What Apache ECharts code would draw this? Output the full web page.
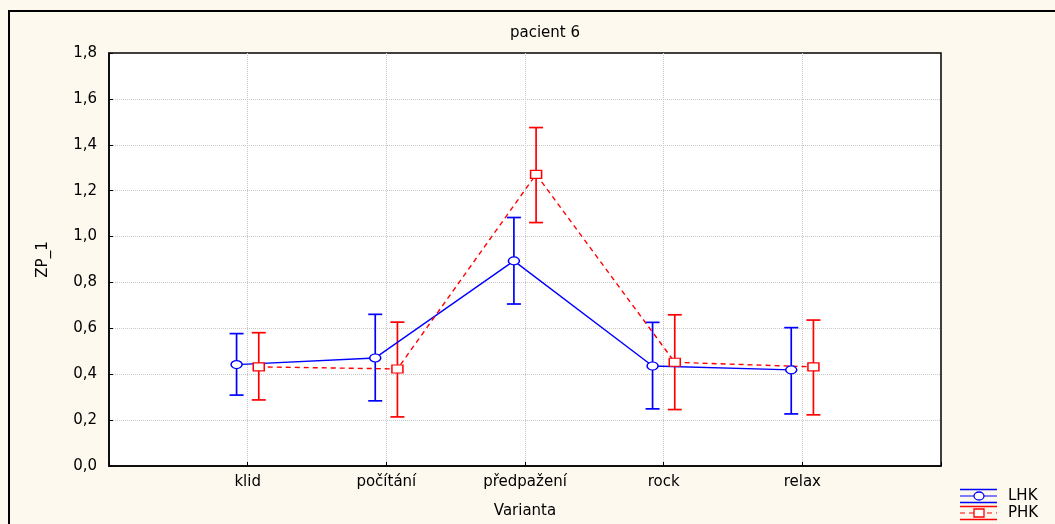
<!DOCTYPE html>
<html><head><meta charset="utf-8">
<script src="https://cdn.jsdelivr.net/npm/echarts@6/dist/echarts.min.js"></script>
<style>html,body{margin:0;padding:0;background:#fdf9ee;}#c{width:1055px;height:524px;}</style>
</head><body><div id="c"></div>
<script>
const categories = ['klid', 'počítání', 'předpažení', 'rock', 'relax'];
const lhkMean = [0.442, 0.471, 0.894, 0.436, 0.419];
const lhkLow  = [0.309, 0.284, 0.706, 0.249, 0.227];
const lhkHigh = [0.577, 0.661, 1.083, 0.626, 0.603];
const phkMean = [0.432, 0.423, 1.271, 0.452, 0.432];
const phkLow  = [0.288, 0.214, 1.061, 0.246, 0.223];
const phkHigh = [0.581, 0.627, 1.475, 0.659, 0.636];
const yTicks = [0, 0.2, 0.4, 0.6, 0.8, 1.0, 1.2, 1.4, 1.6, 1.8];
const offset = 0.08;
const BLUE = '#0000ff', RED = '#ff0000';
const FONT = '"DejaVu Sans", "Liberation Sans", Arial, sans-serif';

const chart = echarts.init(document.getElementById('c'));

function errSeries(name, low, high, shift, color) {
  return {
    type: 'custom', name: name + ' err', z: 3,
    data: categories.map((c, i) => [i + 1 + shift, low[i], high[i]]),
    renderItem: function (params, api) {
      const x = api.value(0);
      const p1 = api.coord([x, api.value(1)]);
      const p2 = api.coord([x, api.value(2)]);
      const hw = 7;
      const st = { stroke: color, lineWidth: 1.7 };
      return { type: 'group', children: [
        { type: 'line', shape: { x1: p1[0], y1: p1[1], x2: p2[0], y2: p2[1] }, style: st },
        { type: 'line', shape: { x1: p1[0]-hw, y1: p1[1], x2: p1[0]+hw, y2: p1[1] }, style: st },
        { type: 'line', shape: { x1: p2[0]-hw, y1: p2[1], x2: p2[0]+hw, y2: p2[1] }, style: st }
      ]};
    }
  };
}

const lx = 960, lx2 = 997, lcx = 979;
chart.setOption({
  backgroundColor: '#fdf9ee',
  animation: false,
  title: { text: 'pacient 6', left: 540, top: 21, textAlign: 'center',
    textStyle: { fontFamily: FONT, fontSize: 15, fontWeight: 'normal', color: '#000' } },
  grid: { left: 109, top: 53, width: 832, height: 414, show: true,
    backgroundColor: '#ffffff', borderColor: '#000', borderWidth: 1.5 },
  xAxis: {
    type: 'value', min: 0, max: 6, interval: 1,
    name: 'Varianta', nameLocation: 'middle', nameGap: 38,
    nameTextStyle: { fontFamily: FONT, fontSize: 15, color: '#000' },
    axisLine: { show: true, onZero: false, lineStyle: { color: '#000', width: 1.5 } },
    axisTick: { show: true, inside: true, length: 4, lineStyle: { color: '#000' } },
    axisLabel: { fontFamily: FONT, fontSize: 15, color: '#000', margin: 9,
      formatter: v => (v >= 1 && v <= 5) ? categories[v - 1] : '' },
    splitLine: { show: true, showMinLine: false, showMaxLine: false,
      lineStyle: { color: '#c8c8c8', type: 'dotted', width: 1 } }
  },
  yAxis: {
    type: 'value', min: 0, max: 1.8, interval: 0.2,
    name: 'ZP_1', nameLocation: 'middle', nameGap: 58, nameRotate: 90,
    nameTextStyle: { fontFamily: FONT, fontSize: 15, color: '#000' },
    axisLine: { show: true, lineStyle: { color: '#000', width: 1.5 } },
    axisTick: { show: true, inside: true, length: 4, lineStyle: { color: '#000' } },
    axisLabel: { fontFamily: FONT, fontSize: 15, color: '#000', margin: 12,
      formatter: v => v.toFixed(1).replace('.', ',') },
    splitLine: { show: true, showMinLine: false, showMaxLine: false,
      lineStyle: { color: '#c8c8c8', type: 'dotted', width: 1 } }
  },
  series: [
    errSeries('LHK', lhkLow, lhkHigh, -offset, BLUE),
    errSeries('PHK', phkLow, phkHigh, offset, RED),
    { type: 'line', name: 'LHK', z: 4,
      data: lhkMean.map((v, i) => [i + 1 - offset, v]),
      lineStyle: { color: BLUE, width: 1.4 },
      symbol: 'circle', symbolSize: [11, 8], showAllSymbol: true,
      itemStyle: { color: '#fff', borderColor: BLUE, borderWidth: 1.3 } },
    { type: 'line', name: 'PHK', z: 4,
      data: phkMean.map((v, i) => [i + 1 + offset, v]),
      lineStyle: { color: RED, width: 1.4, type: [5, 4] },
      symbol: 'rect', symbolSize: [11, 8], showAllSymbol: true,
      itemStyle: { color: '#fff', borderColor: RED, borderWidth: 1.3 } }
  ],
  graphic: [
    { type: 'rect', shape: { x: 9, y: 11, width: 1100, height: 600 }, silent: true,
      style: { fill: null, stroke: '#000', lineWidth: 2 } },
    // LHK legend
    { type: 'line', shape: { x1: lx, y1: 489.5, x2: lx2, y2: 489.5 }, style: { stroke: BLUE, lineWidth: 1.4 } },
    { type: 'line', shape: { x1: lx, y1: 502.5, x2: lx2, y2: 502.5 }, style: { stroke: BLUE, lineWidth: 1.4 } },
    { type: 'line', shape: { x1: lx, y1: 496, x2: lx2, y2: 496 }, style: { stroke: BLUE, lineWidth: 1.2 } },
    { type: 'ellipse', shape: { cx: lcx, cy: 496, rx: 5, ry: 4 }, style: { fill: '#fff', stroke: BLUE, lineWidth: 1.3 } },
    { type: 'text', x: 1008, y: 496, style: { text: 'LHK', fontFamily: FONT, fontSize: 15, fill: '#000', verticalAlign: 'middle' } },
    // PHK legend
    { type: 'line', shape: { x1: lx, y1: 506.5, x2: lx2, y2: 506.5 }, style: { stroke: RED, lineWidth: 1.4 } },
    { type: 'line', shape: { x1: lx, y1: 519.5, x2: lx2, y2: 519.5 }, style: { stroke: RED, lineWidth: 1.4 } },
    { type: 'line', shape: { x1: lx, y1: 513, x2: lx2, y2: 513 }, style: { stroke: RED, lineWidth: 1.2, lineDash: [5, 4] } },
    { type: 'rect', shape: { x: lcx - 5, y: 509, width: 10, height: 8 }, style: { fill: '#fff', stroke: RED, lineWidth: 1.3 } },
    { type: 'text', x: 1008, y: 513, style: { text: 'PHK', fontFamily: FONT, fontSize: 15, fill: '#000', verticalAlign: 'middle' } }
  ]
});
</script></body></html>
